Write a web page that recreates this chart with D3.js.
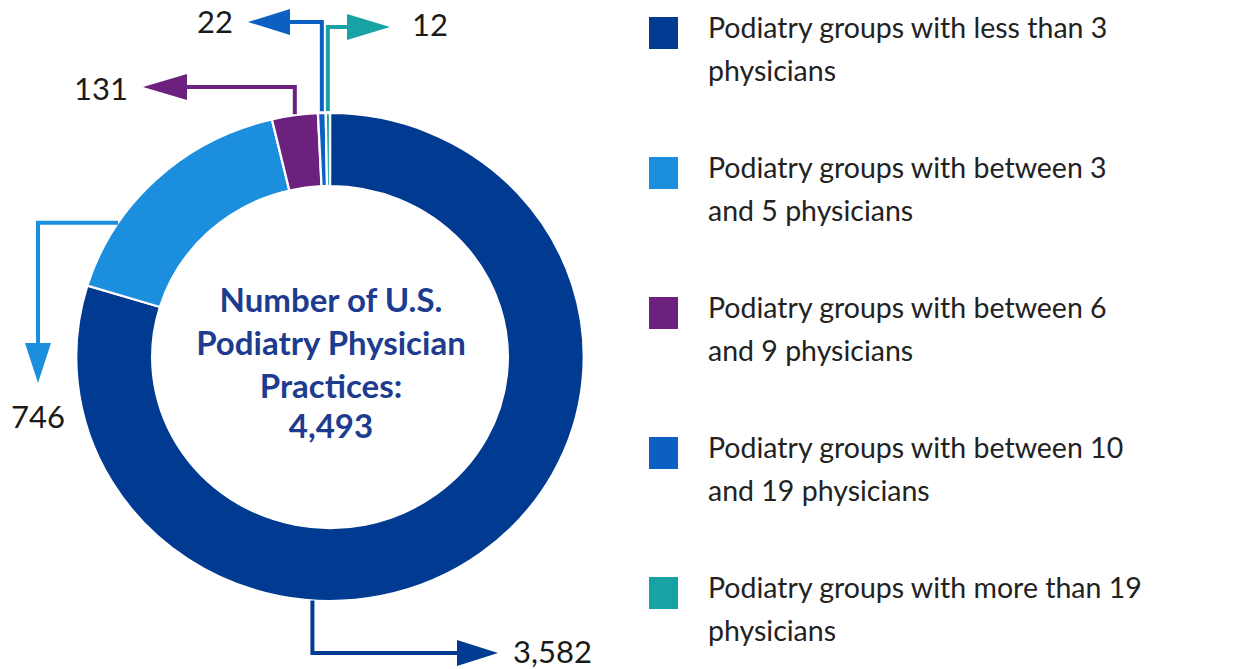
<!DOCTYPE html>
<html>
<head>
<meta charset="utf-8">
<script src="https://cdn.jsdelivr.net/npm/d3@7"></script>
<style>
  body { margin: 0; background: #fff; }
  svg { display: block; }
</style>
</head>
<body>
<script>
// data
var categories = [
  "Podiatry groups with less than 3 physicians",
  "Podiatry groups with between 3 and 5 physicians",
  "Podiatry groups with between 6 and 9 physicians",
  "Podiatry groups with between 10 and 19 physicians",
  "Podiatry groups with more than 19 physicians"
];
var values = [3582, 746, 131, 22, 12];
var valueLabels = ["3,582", "746", "131", "22", "12"];
var legendLines = [
  ["Podiatry groups with less than 3", "physicians"],
  ["Podiatry groups with between 3", "and 5 physicians"],
  ["Podiatry groups with between 6", "and 9 physicians"],
  ["Podiatry groups with between 10", "and 19 physicians"],
  ["Podiatry groups with more than 19", "physicians"]
];
var centerLines = ["Number of U.S.", "Podiatry Physician", "Practices:", "4,493"];
var colors = ["#003a91", "#1b8ede", "#6c217f", "#0b60c2", "#17a2a4"];

var width = 1240, height = 669;
var cx = 330, cy = 357, R = 244, r0 = 171, sx = 1.04;
var font = "Lato, 'Open Sans', sans-serif";

var svg = d3.select( "body" ).append( "svg" )
  .attr( "width", width )
  .attr( "height", height );

var color = d3.scaleOrdinal().domain( categories ).range( colors );

var pie = d3.pie().sort( null ).value( function ( d ) { return d; } );
var arcs = pie( values );

var arc = d3.arc().innerRadius( r0 ).outerRadius( R );

svg.append( "g" )
  .attr( "transform", "translate(" + cx + "," + cy + ") scale(" + sx + ",1)" )
  .selectAll( "path" )
  .data( arcs )
  .enter().append( "path" )
  .attr( "d", arc )
  .attr( "fill", function ( d, i ) { return color( categories[i] ); } )
  .attr( "stroke", "#fff" )
  .attr( "stroke-width", 2.2 );

// centre text
svg.append( "g" ).selectAll( "text" )
  .data( centerLines )
  .enter().append( "text" )
  .attr( "x", cx + 1 )
  .attr( "y", function ( d, i ) { return [312, 355, 398, 438][i]; } )
  .attr( "text-anchor", "middle" )
  .attr( "font-family", font )
  .attr( "font-weight", "bold" )
  .attr( "font-size", 33 )
  .attr( "fill", "#1d3c8f" )
  .text( function ( d ) { return d; } );

// leader lines: where on the slice they start, and the elbow route
function anchor( d, t ) {
  var a = d.startAngle + ( d.endAngle - d.startAngle ) * t;
  return [ cx + sx * R * Math.sin( a ), cy - R * Math.cos( a ) ];
}

var leaders = [
  { t: 0.641, route: function ( p ) { return [ p, [p[0], 653], [457, 653] ]; }, tip: [498, 653], text: [513, 663, "start"] },
  { t: 0.274, route: function ( p ) { return [ p, [38, p[1]], [38, 343] ]; }, tip: [38, 383], text: [38, 428, "middle"] },
  { t: 0.5, route: function ( p ) { return [ [p[0], p[1] - 1], [p[0], 87], [187, 87] ]; }, tip: [143, 87], text: [128, 100, "end"] },
  { t: 0.5, route: function ( p ) { return [ [p[0], p[1] - 2], [p[0], 22], [290, 22] ]; }, tip: [248, 22], text: [233, 33, "end"] },
  { t: 0.5, route: function ( p ) { return [ [p[0], p[1] - 2], [p[0], 27], [347, 27] ]; }, tip: [390, 27], text: [412, 36, "start"] }
];

var line = d3.line();
var lg = svg.append( "g" );

arcs.forEach( function ( d, i ) {
  var L = leaders[i];
  var pts = L.route( anchor( d, L.t ) );
  var c = color( categories[i] );
  lg.append( "path" )
    .attr( "d", line( pts ) )
    .attr( "fill", "none" )
    .attr( "stroke", c )
    .attr( "stroke-width", 4 );

  // arrow head, pointing from the last point to the tip
  var last = pts[pts.length - 1];
  var dx = L.tip[0] - last[0], dy = L.tip[1] - last[1];
  var len = Math.sqrt( dx * dx + dy * dy );
  var ux = dx / len, uy = dy / len, hw = 13;
  lg.append( "path" )
    .attr( "d", line( [
      [ last[0] - uy * hw, last[1] + ux * hw ],
      L.tip,
      [ last[0] + uy * hw, last[1] - ux * hw ]
    ] ) + "Z" )
    .attr( "fill", c );

  lg.append( "text" )
    .attr( "x", L.text[0] )
    .attr( "y", L.text[1] )
    .attr( "text-anchor", L.text[2] )
    .attr( "font-family", font )
    .attr( "font-size", 31 )
    .attr( "fill", "#1a1a1a" )
    .text( valueLabels[i] );
} );

// legend
var legend = svg.append( "g" ).selectAll( "g" )
  .data( categories )
  .enter().append( "g" )
  .attr( "transform", function ( d, i ) { return "translate(649," + ( 17 + i * 140 ) + ")"; } );

legend.append( "rect" )
  .attr( "width", 29 )
  .attr( "height", 32 )
  .attr( "fill", function ( d ) { return color( d ); } );

legend.each( function ( d, i ) {
  d3.select( this ).selectAll( "text" )
    .data( legendLines[i] )
    .enter().append( "text" )
    .attr( "x", 59 )
    .attr( "y", function ( s, j ) { return 21 + j * 43; } )
    .attr( "font-family", font )
    .attr( "font-size", 28.5 )
    .attr( "fill", "#222" )
    .text( function ( s ) { return s; } );
} );
</script>
</body>
</html>
